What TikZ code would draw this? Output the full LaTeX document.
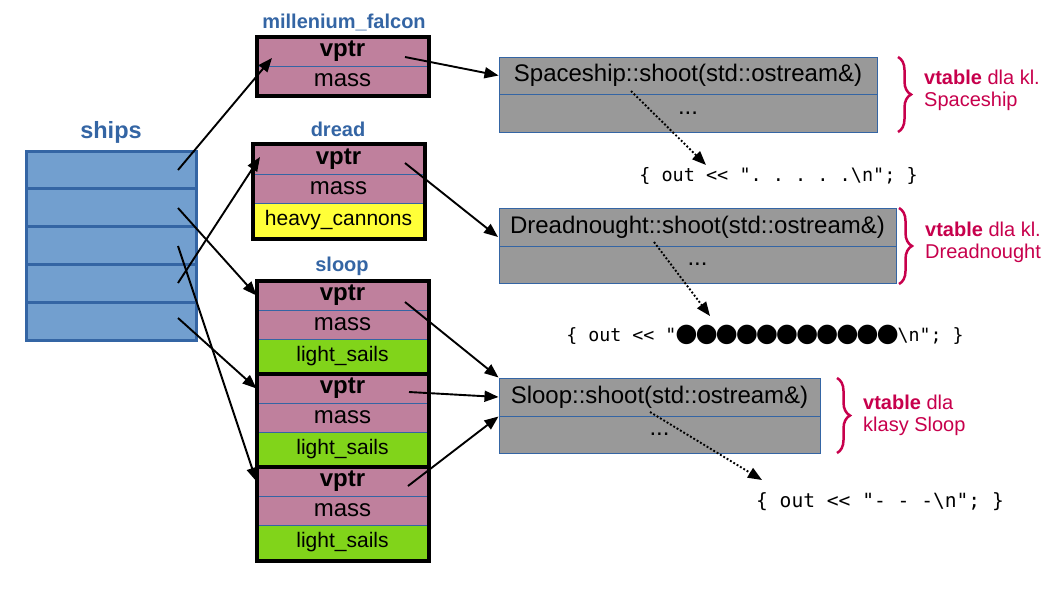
\documentclass[tikz,border=0pt]{standalone}
\usepackage{fontspec}
\setmainfont{Liberation Sans}
\newfontfamily\codefont{DejaVu Sans Mono}
\newfontfamily\dejavu{DejaVu Sans}
\usetikzlibrary{arrows.meta,fit,decorations.pathreplacing}
\definecolor{shipfill}{RGB}{114,159,207}
\definecolor{shipline}{RGB}{52,101,164}
\definecolor{mauve}{RGB}{191,128,157}
\definecolor{yelw}{RGB}{255,255,56}
\definecolor{lime}{RGB}{129,212,26}
\definecolor{vgray}{RGB}{153,153,153}
\definecolor{crimson}{RGB}{199,0,76}
\newcommand\bul{\makebox[20.1pt]{\fontsize{25.5}{25.5}\selectfont\dejavu ●}}
\begin{document}
\begin{tikzpicture}[x=1pt,y=-1pt,
  shipcell/.style={draw=shipline, line width=3pt, fill=shipfill, minimum width=170pt, minimum height=37.8pt, inner sep=0pt},
  objcell/.style={draw=shipline, line width=1pt, minimum width=171pt, inner sep=0pt, font=\fontsize{24}{26}\selectfont},
  vptrcell/.style={objcell, fill=mauve, minimum height=29pt, font=\bfseries\fontsize{24}{26}\selectfont},
  masscell/.style={objcell, fill=mauve, minimum height=29pt},
  fieldcell/.style={objcell, minimum height=35pt, font=\fontsize{21}{23}\selectfont},
  objframe/.style={draw=black, line width=4pt, inner sep=0pt},
  title/.style={text=shipline, font=\bfseries\fontsize{20}{22}\selectfont, inner sep=0pt},
  vcell/.style={draw=shipline, line width=1pt, fill=vgray, inner sep=0pt, font=\fontsize{24}{26}\selectfont},
  code/.style={font=\codefont\fontsize{18.5}{20}\selectfont, inner sep=0pt},
  ptr/.style={line width=1.9pt, -{Triangle[length=14pt,width=11pt]}},
  call/.style={ptr, dotted},
  vbrace/.style={draw=crimson, line width=2.5pt, decorate, decoration={brace, amplitude=13pt}},
  vnote/.style={text=crimson, font=\fontsize{20}{22}\selectfont, align=left, anchor=west, inner sep=0pt}
]
\useasboundingbox (0,0) rectangle (1058,595);

% ships array
\node[title, font=\bfseries\fontsize{23.5}{25}\selectfont] (shipsT) at (111,132) {ships};
\foreach \i in {1,...,5}{
  \node[shipcell] (sh\i) at (111,{151+18.9+37.8*(\i-1)}) {};
}

% millenium_falcon
\node[title] (mfT) at (344,22) {millenium\_falcon};
\node[vptrcell] (mfv) at (342.5,51.5) {vptr};
\node[masscell] (mfm) at (342.5,80.5) {mass};
\node[objframe, fit=(mfv)(mfm)] (mf) {};

% dread
\node[title] (drT) at (338,129) {dread};
\node[vptrcell, minimum height=30pt] (drv) at (338.5,159) {vptr};
\node[masscell] (drm) at (338.5,188.5) {mass};
\node[fieldcell, fill=yelw] (drh) at (338.5,220.5) {heavy\_cannons};
\node[objframe, fit=(drv)(drh)] (dr) {};

% sloops
\node[title] (slT) at (342,266) {sloop};
\foreach \k/\y in {1/281,2/374,3/467}{
  \node[vptrcell] (s\k v) at (342.5,\y+14.5) {vptr};
  \node[masscell] (s\k m) at (342.5,\y+43.5) {mass};
  \node[fieldcell, fill=lime] (s\k l) at (342.5,\y+75.5) {light\_sails};
  \node[objframe, fit=(s\k v)(s\k l)] (s\k) {};
}

% vtables
\node[vcell, minimum width=378pt, minimum height=37pt] (sp1) at (688,75.5) {Spaceship::shoot(std::ostream\&)};
\node[vcell, minimum width=378pt, minimum height=38pt] (sp2) at (688,113) {...};
\node[vcell, minimum width=397pt, minimum height=38pt] (dn1) at (697.5,227) {Dreadnought::shoot(std::ostream\&)};
\node[vcell, minimum width=397pt, minimum height=37pt] (dn2) at (697.5,264.5) {...};
\node[vcell, minimum width=321pt, minimum height=38pt] (sl1) at (659.5,397) {Sloop::shoot(std::ostream\&)};
\node[vcell, minimum width=321pt, minimum height=37pt] (sl2) at (659.5,434.5) {...};

% code
\node[code] (c1) at (778.5,176) {\{ out <{}< ".~.~.~.~.\textbackslash n"; \}};
\node[code, font=\codefont\fontsize{18.3}{20}\selectfont] (c2) at (765,335) {\{ out <{}< "\bul\bul\bul\bul\bul\bul\bul\bul\bul\bul\bul\textbackslash n"; \}};
\node[code, font=\codefont\fontsize{19.6}{21}\selectfont] (c3) at (880,502) {\{ out <{}< "-~-~-\textbackslash n"; \}};

% braces and notes
\draw[vbrace] (898,57) -- (898,132);
\node[vnote] (n1) at (924,90) {\textbf{vtable} dla kl.\\Spaceship};
\draw[vbrace] (899,208) -- (899,284);
\node[vnote] (n2) at (925,242) {\textbf{vtable} dla kl.\\Dreadnought};
\draw[vbrace] (837,378) -- (837,453);
\node[vnote] (n3) at (863,415) {\textbf{vtable} dla\\klasy Sloop};

% coordinates
\coordinate (p1) at (178,170);
\coordinate (p2) at (178,208);
\coordinate (p3) at (178,246);
\coordinate (p4) at (178,283);
\coordinate (p5) at (178,318);
\coordinate (mfin) at (272,58);
\coordinate (drin) at (260,157);
\coordinate (q1) at (405,57);
\coordinate (q2) at (405,163);
\coordinate (q3) at (405,302);
\coordinate (q4) at (409,392);
\coordinate (q5) at (408,486);
\coordinate (dnin) at (498,237);
\coordinate (r1) at (631,91);
\coordinate (r2) at (654,242);
\coordinate (r3) at (650,412);
\coordinate (c1in) at (706,165);
\coordinate (c2in) at (710,316);
\coordinate (c3in) at (762,480);

% pointers
\draw[ptr] (p1) -- (mfin);
\draw[ptr] (p2) -- (s1v.west);
\draw[ptr] (p3) -- (s3v.west);
\draw[ptr] (p4) -- (drin);
\draw[ptr] (p5) -- (s2v.west);
\draw[ptr] (q1) -- (sp1.west);
\draw[ptr] (q2) -- (dnin);
\draw[ptr] (q3) -- (sl1.north west);
\draw[ptr] (q4) -- (sl1.west);
\draw[ptr] (q5) -- (sl1.south west);
\draw[call] (r1) -- (c1in);
\draw[call] (r2) -- (c2in);
\draw[call] (r3) -- (c3in);
\end{tikzpicture}
\end{document}
